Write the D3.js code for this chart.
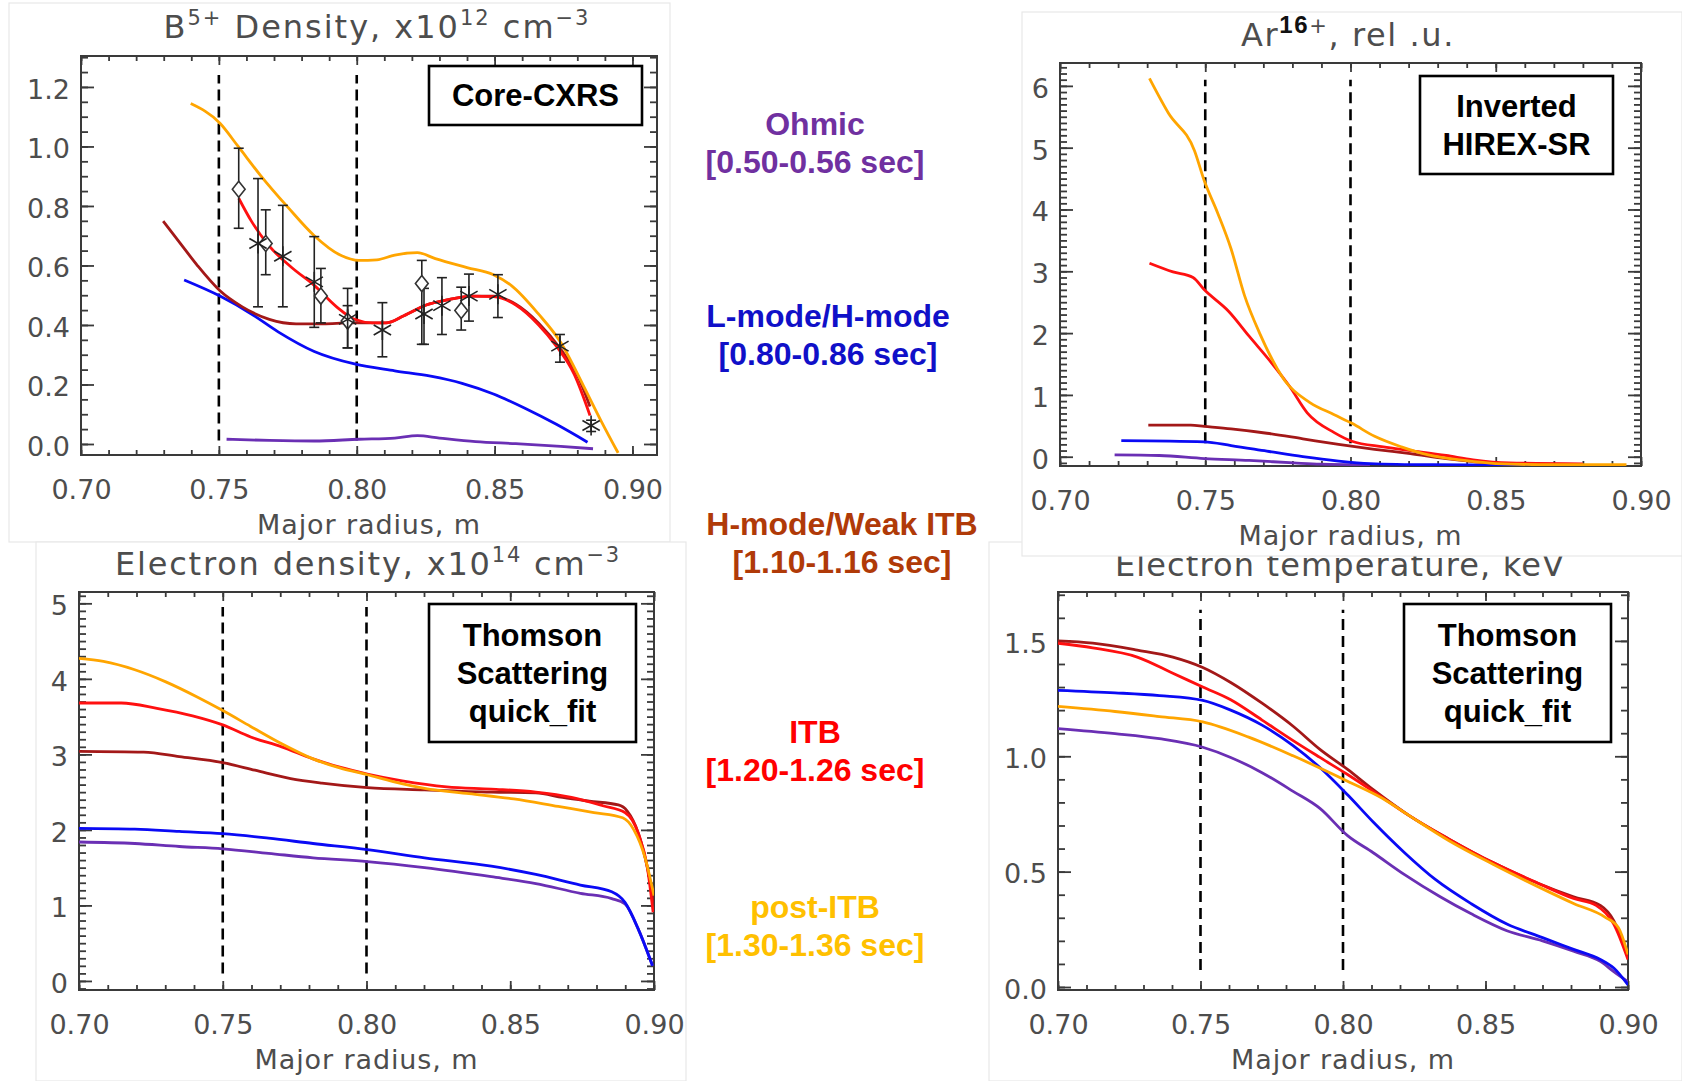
<!DOCTYPE html>
<html><head><meta charset="utf-8">
<script src="https://cdn.jsdelivr.net/npm/d3@7"></script>
<style>body{margin:0;background:#fff;}svg{display:block;}</style>
</head><body>
<svg id="chart" width="1682" height="1081"></svg>
<script>
// ---------- legend / series meta ----------
const seriesNames = ["Ohmic","L-mode/H-mode","H-mode/Weak ITB","ITB","post-ITB"];
const seriesTimes = ["[0.50-0.56 sec]","[0.80-0.86 sec]","[1.10-1.16 sec]","[1.20-1.26 sec]","[1.30-1.36 sec]"];
const lineColors  = ["#6a2fb4","#0a0af5","#a31818","#ff1010","#ffa500"];
const labelColors = ["#7030a0","#1010c8","#b03a08","#ff0000","#ffc000"];
const drawOrder = [0,1,2,3,4];
const xTickValues = [0.70,0.75,0.80,0.85,0.90];
const itbMarkers = [0.75,0.80];

// ---------- Panel 1: B5+ density (Core-CXRS) [radius, value] ----------
const b5Ohmic = [[0.7528,0.016],[0.7683,0.012],[0.7846,0.010],[0.8008,0.016],[0.8138,0.020],[0.822,0.028],[0.830,0.020],[0.8431,0.008],[0.8577,0.001],[0.874,-0.008],[0.8857,-0.016]];
const b5Lmode = [[0.7374,0.551],[0.7504,0.497],[0.7618,0.437],[0.7715,0.377],[0.7846,0.311],[0.7992,0.269],[0.8138,0.246],[0.8268,0.228],[0.8382,0.204],[0.8496,0.168],[0.861,0.120],[0.8724,0.066],[0.8837,0.006]];
const b5Hmode = [[0.7298,0.749],[0.7358,0.677],[0.7423,0.599],[0.7504,0.515],[0.7585,0.461],[0.7683,0.419],[0.778,0.404],[0.7878,0.404],[0.7976,0.407],[0.8057,0.407],[0.8106,0.407],[0.8171,0.431],[0.8252,0.467],[0.8333,0.485],[0.8415,0.497],[0.8496,0.497],[0.8577,0.470],[0.8659,0.407],[0.874,0.318],[0.8805,0.222],[0.8846,0.126]];
const b5Itb   = [[0.7572,0.826],[0.7618,0.749],[0.7683,0.665],[0.7764,0.593],[0.7846,0.533],[0.7927,0.461],[0.7992,0.419],[0.8057,0.407],[0.8106,0.407],[0.8171,0.431],[0.8252,0.467],[0.8333,0.485],[0.8415,0.497],[0.8496,0.495],[0.8577,0.467],[0.8659,0.401],[0.8724,0.329],[0.8789,0.234],[0.8846,0.096]];
const b5Post  = [[0.7398,1.144],[0.7504,1.078],[0.757,1.0],[0.765,0.904],[0.775,0.796],[0.7846,0.70],[0.794,0.635],[0.8008,0.617],[0.8073,0.619],[0.8138,0.635],[0.822,0.643],[0.8285,0.623],[0.840,0.593],[0.8496,0.569],[0.856,0.533],[0.8659,0.437],[0.874,0.341],[0.8821,0.198],[0.8886,0.078],[0.8948,-0.030]];
// CXRS measurements [radius, value, low, high]
const cxrsDiamonds = [[0.7572,0.856,0.725,0.994],[0.767,0.674,0.569,0.787],[0.787,0.497,0.407,0.59],[0.7967,0.413,0.323,0.465],[0.8236,0.539,0.335,0.617],[0.8379,0.449,0.383,0.527]];
const cxrsStars = [[0.7642,0.674,0.461,0.892],[0.7732,0.631,0.461,0.802],[0.7846,0.545,0.392,0.697],[0.7967,0.419,0.323,0.523],[0.8093,0.383,0.293,0.475],[0.8244,0.437,0.335,0.523],[0.8309,0.465,0.368,0.559],[0.8407,0.497,0.413,0.571],[0.8512,0.503,0.425,0.569],[0.8737,0.329,0.275,0.368],[0.8850,0.062,0.042,0.080]];

// ---------- Panel 2: Ar16+ (inverted HIREX-SR) ----------
const arOhmic = [[0.7188,0.03],[0.7342,0.02],[0.7497,-0.03],[0.7651,-0.06],[0.7805,-0.10],[0.7897,-0.12],[0.8067,-0.13]];
const arLmode = [[0.7211,0.26],[0.7497,0.24],[0.7589,0.18],[0.7712,0.09],[0.7836,0.0],[0.7959,-0.07],[0.8067,-0.11],[0.8283,-0.13],[0.873,-0.14]];
const arHmode = [[0.7304,0.51],[0.745,0.51],[0.7497,0.49],[0.7589,0.45],[0.7712,0.38],[0.7836,0.29],[0.7959,0.20],[0.8083,0.12],[0.8206,0.05],[0.8329,-0.03],[0.8453,-0.09],[0.8545,-0.11]];
const arItb   = [[0.7308,3.13],[0.7389,2.99],[0.7458,2.90],[0.7497,2.70],[0.7581,2.35],[0.7651,1.95],[0.7728,1.52],[0.779,1.14],[0.7851,0.71],[0.7944,0.39],[0.8005,0.25],[0.8113,0.16],[0.8206,0.10],[0.8329,0.02],[0.8422,-0.05],[0.8545,-0.10],[0.88,-0.115]];
const arPost  = [[0.7308,6.12],[0.7373,5.56],[0.7463,4.95],[0.7497,4.46],[0.7543,3.94],[0.7589,3.36],[0.7635,2.61],[0.7689,1.98],[0.7774,1.23],[0.7859,0.88],[0.7944,0.68],[0.8005,0.54],[0.8083,0.33],[0.8175,0.16],[0.8268,0.03],[0.8391,-0.06],[0.85,-0.11],[0.87,-0.13],[0.895,-0.13]];

// ---------- Panel 3: electron density ----------
const neOhmic = [[0.70,1.84],[0.7194,1.82],[0.7349,1.78],[0.75,1.75],[0.7659,1.69],[0.7814,1.63],[0.8003,1.58],[0.8202,1.50],[0.8434,1.38],[0.8589,1.29],[0.8744,1.16],[0.8853,1.09],[0.8899,1.02],[0.8946,0.68],[0.8995,0.20]];
const neLmode = [[0.70,2.02],[0.7194,2.01],[0.7349,1.98],[0.75,1.95],[0.7659,1.89],[0.7814,1.82],[0.8003,1.74],[0.8202,1.63],[0.8434,1.52],[0.8589,1.41],[0.8744,1.27],[0.8853,1.18],[0.8899,1.04],[0.8946,0.68],[0.8995,0.20]];
const neHmode = [[0.70,3.04],[0.7225,3.03],[0.7349,2.97],[0.75,2.89],[0.7612,2.79],[0.7736,2.68],[0.7845,2.62],[0.8003,2.56],[0.8202,2.53],[0.8434,2.50],[0.8589,2.49],[0.8682,2.43],[0.8775,2.38],[0.8876,2.33],[0.8907,2.25],[0.8946,1.95],[0.8977,1.50],[0.90,1.04]];
const neItb   = [[0.70,3.68],[0.7147,3.68],[0.7271,3.61],[0.7395,3.51],[0.75,3.39],[0.7597,3.23],[0.7705,3.10],[0.7814,2.94],[0.7907,2.83],[0.8003,2.74],[0.8124,2.65],[0.8279,2.57],[0.8434,2.54],[0.8589,2.50],[0.8713,2.43],[0.8822,2.32],[0.8899,2.23],[0.8946,1.95],[0.8977,1.50],[0.8997,0.91]];
const nePost  = [[0.70,4.27],[0.7085,4.23],[0.7194,4.12],[0.7302,3.96],[0.7411,3.76],[0.75,3.58],[0.7597,3.37],[0.7705,3.14],[0.7814,2.94],[0.7907,2.82],[0.8003,2.73],[0.8093,2.64],[0.8202,2.55],[0.8357,2.48],[0.8512,2.41],[0.8667,2.31],[0.8791,2.23],[0.8891,2.16],[0.893,2.00],[0.8969,1.63],[0.90,1.13]];

// ---------- Panel 4: electron temperature ----------
const teOhmic = [[0.70,1.12],[0.72,1.098],[0.7356,1.076],[0.7508,1.039],[0.7606,0.995],[0.7716,0.929],[0.7825,0.848],[0.7919,0.774],[0.8016,0.656],[0.8106,0.582],[0.8216,0.487],[0.8341,0.391],[0.845,0.317],[0.8575,0.244],[0.87,0.200],[0.8809,0.155],[0.8903,0.111],[0.895,0.067],[0.90,0.023]];
const teLmode = [[0.70,1.286],[0.72,1.275],[0.7356,1.263],[0.7508,1.242],[0.7606,1.20],[0.7716,1.135],[0.7825,1.046],[0.7919,0.951],[0.8016,0.833],[0.8106,0.715],[0.8216,0.582],[0.8325,0.465],[0.845,0.361],[0.8575,0.273],[0.87,0.214],[0.8809,0.163],[0.8903,0.119],[0.895,0.082],[0.90,0.009]];
const teHmode = [[0.70,1.50],[0.7122,1.49],[0.7278,1.46],[0.7403,1.43],[0.7508,1.385],[0.7606,1.32],[0.7716,1.23],[0.7825,1.13],[0.7919,1.03],[0.8016,0.943],[0.8106,0.855],[0.8231,0.744],[0.8372,0.641],[0.8528,0.538],[0.8684,0.450],[0.8809,0.391],[0.8903,0.354],[0.895,0.288],[0.90,0.126]];
const teItb   = [[0.70,1.49],[0.7122,1.47],[0.7278,1.43],[0.7403,1.36],[0.7508,1.30],[0.7606,1.245],[0.7716,1.157],[0.7825,1.068],[0.7919,0.995],[0.8016,0.921],[0.8106,0.848],[0.8231,0.744],[0.8372,0.641],[0.8528,0.538],[0.8684,0.450],[0.8809,0.384],[0.8888,0.354],[0.895,0.273],[0.90,0.119]];
const tePost  = [[0.70,1.216],[0.72,1.194],[0.7356,1.172],[0.7508,1.149],[0.7669,1.083],[0.7825,1.002],[0.8016,0.892],[0.8138,0.818],[0.8231,0.744],[0.8372,0.634],[0.8528,0.531],[0.8684,0.435],[0.8809,0.362],[0.8919,0.303],[0.8966,0.258],[0.90,0.141]];

// ---------- y tick values ----------
const b5YTicks = [0,0.2,0.4,0.6,0.8,1.0,1.2];
const arYTicks = [0,1,2,3,4,5,6];
const neYTicks = [0,1,2,3,4,5];
const teYTicks = [0,0.5,1.0,1.5];

// ---------- layout ----------
const svg = d3.select("#chart");
const AXIS_FONT = "'DejaVu Sans', sans-serif";
const AXIS_COLOR = "#4d4d4d";
const FRAME_COLOR = "#3a3a3a";

const panels = [
  {series:[b5Ohmic,b5Lmode,b5Hmode,b5Itb,b5Post], box:{l:81,r:657,t:56,b:455}, xDom:[0.70,0.9089], yDom:[-0.037,1.304],
   yTicks:b5YTicks, yFmt:d3.format(".1f"), yMinor:0.05, dash:[0.012,1.24], bg:[9,3,661,539],
   title:[["B"],["5+","sup"],[" Density, x10"],["12","sup"],[" cm"],["\u22123","sup"]], titleX:377, titleY:38, titleW:425,
   label:["Core-CXRS"], labelBox:[429,66,213,59], labelY0:106, cxrs:true},
  {series:[neOhmic,neLmode,neHmode,neItb,nePost], box:{l:79,r:654,t:592,b:990}, xDom:[0.70,0.90], yDom:[-0.12,5.15],
   yTicks:neYTicks, yFmt:d3.format("d"), yMinor:0.1, dash:[0.10,4.95], bg:[36,542,650,539],
   title:[["Electron  density, x10"],["14","sup"],[" cm"],["\u22123","sup"]], titleX:368, titleY:575, titleW:506,
   label:["Thomson","Scattering","quick_fit"], labelBox:[429,604,207,138], labelY0:646},
  {series:[teOhmic,teLmode,teHmode,teItb,tePost], box:{l:1058,r:1628,t:592,b:990}, xDom:[0.70,0.90], yDom:[-0.013,1.712],
   yTicks:teYTicks, yFmt:d3.format(".1f"), yMinor:0.1, dash:[0.074,1.635], bg:[989,542,693,539],
   title:[["Electron  temperature, keV"]], titleX:1340, titleY:576, titleW:450,
   label:["Thomson","Scattering","quick_fit"], labelBox:[1404,604,207,138], labelY0:646},
  {series:[arOhmic,arLmode,arHmode,arItb,arPost], box:{l:1060,r:1641,t:63,b:466}, xDom:[0.70,0.90], yDom:[-0.15,6.37],
   yTicks:arYTicks, yFmt:d3.format("d"), yMinor:0.1, dash:[0.22,6.1], bg:[1022,12,660,544],
   title:[["Ar"],["16","supb"],["+","sup"],[", rel  .u."]], titleX:1348, titleY:46, titleW:214,
   label:["Inverted","HIREX-SR"], labelBox:[1420,76,193,98], labelY0:117}
];

function fitText(sel, target){
  const node = sel.node();
  const w = node.getComputedTextLength();
  const n = (sel.text() || "").length;
  if (n > 1 && w > 0) sel.attr("letter-spacing", ((target - w) / (n - 1)).toFixed(2));
}

function drawPanel(p, idx){
  const g = svg.append("g");
  const x = d3.scaleLinear().domain(p.xDom).range([p.box.l, p.box.r]);
  const y = d3.scaleLinear().domain(p.yDom).range([p.box.b, p.box.t]);

  // pasted-image background with faint border
  g.append("rect").attr("x",p.bg[0]).attr("y",p.bg[1]).attr("width",p.bg[2]).attr("height",p.bg[3])
    .attr("fill","#fff").attr("stroke","#e8e8e8").attr("stroke-width",1.2);

  const xMinor = d3.range(70, 91).map(v => v/100).filter(v => v <= p.xDom[1] + 1e-9);
  const yMinor = d3.range(Math.ceil(p.yDom[0]/p.yMinor - 1e-9), Math.floor(p.yDom[1]/p.yMinor + 1e-9) + 1).map(k => +(k*p.yMinor).toFixed(4));

  const axes = g.append("g").attr("class","axes");
  const addAxis = (axis, tx, ty) => axes.append("g").attr("transform",`translate(${tx},${ty})`).call(axis);
  // minor ticks
  addAxis(d3.axisBottom(x).tickValues(xMinor).tickSize(-5).tickFormat(""), 0, p.box.b);
  addAxis(d3.axisTop(x).tickValues(xMinor).tickSize(-5).tickFormat(""), 0, p.box.t);
  addAxis(d3.axisLeft(y).tickValues(yMinor).tickSize(-7).tickFormat(""), p.box.l, 0);
  addAxis(d3.axisRight(y).tickValues(yMinor).tickSize(-7).tickFormat(""), p.box.r, 0);
  // major ticks
  const bottom = addAxis(d3.axisBottom(x).tickValues(xTickValues.filter(v => v <= p.xDom[1]+1e-9)).tickSize(-9).tickPadding(25).tickFormat(d3.format(".2f")), 0, p.box.b);
  addAxis(d3.axisTop(x).tickValues(xTickValues).tickSize(-9).tickFormat(""), 0, p.box.t);
  const left = addAxis(d3.axisLeft(y).tickValues(p.yTicks).tickSize(-13).tickPadding(11).tickFormat(p.yFmt), p.box.l, 0);
  addAxis(d3.axisRight(y).tickValues(p.yTicks).tickSize(-13).tickFormat(""), p.box.r, 0);

  axes.selectAll(".domain").remove();
  axes.selectAll("line").attr("stroke", FRAME_COLOR).attr("stroke-width", 1.8);
  axes.selectAll("text").attr("font-family", AXIS_FONT).attr("font-size", 27).attr("fill", AXIS_COLOR);
  left.selectAll("text").attr("dy","0.42em");
  // frame
  g.append("rect").attr("x",p.box.l).attr("y",p.box.t).attr("width",p.box.r-p.box.l).attr("height",p.box.b-p.box.t)
    .attr("fill","none").attr("stroke",FRAME_COLOR).attr("stroke-width",2);

  // x-axis title
  const xl = g.append("text").attr("x",(p.box.l+p.box.r)/2).attr("y",p.box.b+79).attr("text-anchor","middle")
    .attr("font-family",AXIS_FONT).attr("font-size",27).attr("fill",AXIS_COLOR).text("Major radius, m");
  fitText(xl, 223);

  // panel title
  const tt = g.append("text").attr("x",p.titleX).attr("y",p.titleY).attr("text-anchor","middle")
    .attr("font-family",AXIS_FONT).attr("font-size",32).attr("fill",AXIS_COLOR);
  let raised = false;
  p.title.forEach(([txt, kind]) => {
    const ts = tt.append("tspan").text(txt);
    const isSup = kind === "sup" || kind === "supb";
    if (isSup && !raised){ ts.attr("dy",-13); raised = true; }
    if (!isSup && raised){ ts.attr("dy",13); raised = false; }
    if (isSup) ts.attr("font-size",21);
    if (kind === "supb") ts.attr("font-family","'Liberation Sans', Arial, sans-serif").attr("font-weight","bold").attr("fill","#111").attr("font-size",24);
  });
  const tw = tt.node().getComputedTextLength();
  const nch = tt.text().length;
  if (tw > 0 && nch > 1) tt.selectAll("tspan").attr("letter-spacing", ((p.titleW - tw)/(nch-1)).toFixed(2));

  // dashed ITB-foot markers
  g.append("g").selectAll("line").data(itbMarkers).join("line")
    .attr("x1",d => x(d)).attr("x2",d => x(d)).attr("y1",y(p.dash[0])).attr("y2",y(p.dash[1]))
    .attr("stroke","#000").attr("stroke-width",2.6).attr("stroke-dasharray","11,6");

  // profiles
  const clipId = "clip"+idx;
  svg.append("clipPath").attr("id",clipId).append("rect")
    .attr("x",p.box.l).attr("y",p.box.t).attr("width",p.box.r-p.box.l).attr("height",p.box.b-p.box.t);
  const line = d3.line().x(d => x(d[0])).y(d => y(d[1])).curve(d3.curveMonotoneX);
  const lg = g.append("g").attr("clip-path",`url(#${clipId})`);
  drawOrder.forEach(i => {
    lg.append("path").datum(p.series[i]).attr("d",line).attr("fill","none")
      .attr("stroke",lineColors[i]).attr("stroke-width",2.8).attr("stroke-linejoin","round");
  });

  // CXRS measured points
  if (p.cxrs){
    const mg = g.append("g").attr("stroke","#222").attr("fill","none").attr("stroke-width",1.6);
    const all = cxrsDiamonds.concat(cxrsStars);
    all.forEach(d => {
      mg.append("line").attr("x1",x(d[0])).attr("x2",x(d[0])).attr("y1",y(d[2])).attr("y2",y(d[3]));
      mg.append("line").attr("x1",x(d[0])-5).attr("x2",x(d[0])+5).attr("y1",y(d[2])).attr("y2",y(d[2]));
      mg.append("line").attr("x1",x(d[0])-5).attr("x2",x(d[0])+5).attr("y1",y(d[3])).attr("y2",y(d[3]));
    });
    cxrsDiamonds.forEach(d => {
      const cx = x(d[0]), cy = y(d[1]), r = 8;
      mg.append("path").attr("d",`M${cx},${cy-r}L${cx+r*0.8},${cy}L${cx},${cy+r}L${cx-r*0.8},${cy}Z`).attr("fill","#fff").attr("stroke","#333");
    });
    cxrsStars.forEach(d => {
      const cx = x(d[0]), cy = y(d[1]), r = 10;
      [90,30,150].forEach(a => {
        const dx = r*Math.cos(a*Math.PI/180), dy = r*Math.sin(a*Math.PI/180);
        mg.append("line").attr("x1",cx-dx).attr("x2",cx+dx).attr("y1",cy-dy).attr("y2",cy+dy).attr("stroke","#222");
      });
    });
  }

  // diagnostic label box
  const [bx,by,bw,bh] = p.labelBox;
  g.append("rect").attr("x",bx).attr("y",by).attr("width",bw).attr("height",bh)
    .attr("fill","#fff").attr("stroke","#000").attr("stroke-width",2.6);
  p.label.forEach((s,k) => {
    g.append("text").attr("x",bx+bw/2).attr("y",p.labelY0 + k*38).attr("text-anchor","middle")
      .attr("font-family","'Liberation Sans', Arial, sans-serif").attr("font-weight","bold").attr("font-size",31)
      .attr("fill","#000").text(s);
  });
}

panels.forEach((p,i) => drawPanel(p,i));

// ---------- central legend ----------
const legendX = [815, 828, 842, 815, 815];
const legendY = [135, 327, 535, 743, 918];
const lgd = svg.append("g").attr("font-family","'Liberation Sans', Arial, sans-serif").attr("font-weight","bold")
  .attr("font-size",32).attr("text-anchor","middle");
seriesNames.forEach((name,i) => {
  lgd.append("text").attr("x",legendX[i]).attr("y",legendY[i]).attr("fill",labelColors[i]).text(name);
  lgd.append("text").attr("x",legendX[i]).attr("y",legendY[i]+38).attr("fill",labelColors[i]).text(seriesTimes[i]);
});
</script>
</body></html>
